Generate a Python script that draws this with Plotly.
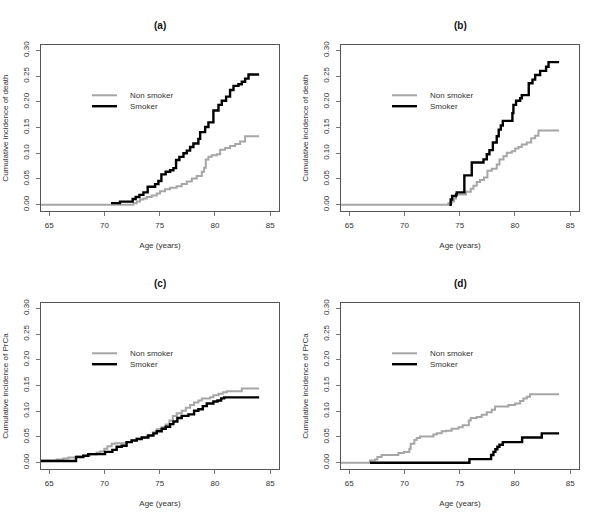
import plotly.graph_objects as go

# ---------------- data ----------------
# Panel (a): cumulative incidence of death
a_non_age = [64.0, 72.61, 72.92, 73.22, 73.52, 73.82, 74.27, 74.73, 75.03, 75.48, 75.94, 76.54, 76.99,
             77.45, 77.90, 78.35, 78.81, 79.02, 79.17, 79.41, 79.71, 80.17, 80.47, 80.92, 81.37, 81.83,
             82.28, 82.73, 84.0]
a_non_cif = [0.0, 0.003, 0.006, 0.010, 0.012, 0.015, 0.018, 0.022, 0.026, 0.030, 0.033, 0.036, 0.040,
             0.045, 0.051, 0.056, 0.064, 0.072, 0.088, 0.093, 0.096, 0.098, 0.107, 0.110, 0.114, 0.118,
             0.123, 0.133, 0.133]
a_smk_age = [70.59, 71.40, 72.55, 72.82, 73.16, 73.52, 73.91, 74.58, 74.88, 75.15, 75.54, 75.94, 76.24,
             76.48, 76.78, 77.15, 77.45, 77.75, 78.05, 78.50, 78.66, 79.11, 79.41, 79.86, 80.32, 80.62,
             81.01, 81.37, 81.68, 82.13, 82.43, 82.73, 83.04, 84.0]
a_smk_cif = [0.003, 0.006, 0.011, 0.015, 0.019, 0.024, 0.035, 0.040, 0.046, 0.059, 0.064, 0.067, 0.071,
             0.087, 0.093, 0.100, 0.105, 0.112, 0.119, 0.128, 0.141, 0.151, 0.160, 0.183, 0.194, 0.202,
             0.210, 0.223, 0.231, 0.234, 0.239, 0.245, 0.253, 0.253]

# Panel (b): cumulative incidence of death
b_non_age = [64.0, 73.97, 74.27, 74.49, 74.67, 75.57, 76.00, 76.24, 76.54, 76.84, 77.20, 77.51, 77.90,
             78.35, 78.60, 78.96, 79.26, 79.71, 80.02, 80.32, 80.62, 81.07, 81.47, 81.83, 82.13, 84.0]
b_non_cif = [0.0, 0.003, 0.006, 0.012, 0.020, 0.025, 0.031, 0.037, 0.044, 0.048, 0.053, 0.066, 0.070,
             0.078, 0.088, 0.094, 0.101, 0.104, 0.109, 0.112, 0.117, 0.121, 0.129, 0.134, 0.144, 0.144]
b_smk_age = [74.06, 74.18, 74.31, 74.67, 74.73, 75.42, 76.09, 77.15, 77.45, 77.69, 78.00, 78.35, 78.53,
             78.72, 78.90, 79.77, 79.86, 80.10, 80.47, 80.62, 81.25, 81.59, 81.83, 82.28, 82.82, 83.04, 84.0]
b_smk_cif = [0.0, 0.010, 0.017, 0.020, 0.024, 0.057, 0.082, 0.088, 0.098, 0.106, 0.121, 0.133, 0.146,
             0.154, 0.163, 0.178, 0.194, 0.202, 0.207, 0.213, 0.236, 0.243, 0.252, 0.260, 0.268, 0.277, 0.277]

# Panel (c): cumulative incidence of PrCa
c_non_age = [64.0, 65.66, 66.27, 66.72, 67.48, 68.08, 68.69, 69.29, 69.59, 69.98, 70.26, 70.65, 70.95,
             72.00, 72.46, 72.92, 73.37, 73.82, 74.37, 74.73, 75.18, 75.54, 75.88, 76.18, 76.54, 76.99,
             77.36, 77.75, 78.11, 78.50, 78.81, 79.56, 79.86, 80.32, 80.71, 81.07, 82.43, 84.0]
c_non_cif = [0.0045, 0.0064, 0.008, 0.010, 0.012, 0.014, 0.016, 0.020, 0.022, 0.027, 0.032, 0.037, 0.038,
             0.040, 0.044, 0.047, 0.049, 0.053, 0.059, 0.065, 0.069, 0.074, 0.082, 0.091, 0.096, 0.101,
             0.107, 0.112, 0.117, 0.121, 0.125, 0.127, 0.131, 0.134, 0.137, 0.139, 0.144, 0.144]
c_smk_age = [64.0, 67.42, 68.08, 68.53, 70.05, 70.71, 71.10, 71.56, 72.00, 72.46, 72.92, 73.37, 73.97,
             74.43, 74.73, 75.18, 75.54, 75.94, 76.24, 76.60, 76.99, 77.60, 78.11, 78.50, 78.90, 79.26,
             79.86, 80.23, 80.56, 80.83, 84.0]
c_smk_cif = [0.0032, 0.011, 0.0135, 0.0167, 0.021, 0.025, 0.031, 0.033, 0.040, 0.043, 0.046, 0.049, 0.053,
             0.057, 0.061, 0.066, 0.070, 0.075, 0.080, 0.087, 0.091, 0.094, 0.101, 0.104, 0.110, 0.115,
             0.119, 0.121, 0.125, 0.127, 0.127]

# Panel (d): cumulative incidence of PrCa
d_non_age = [64.0, 66.87, 67.33, 67.54, 67.93, 69.44, 69.95, 70.44, 70.56, 70.89, 71.10, 71.40, 72.61,
             72.92, 73.37, 73.76, 74.27, 74.88, 75.27, 75.82, 76.00, 76.54, 76.99, 77.45, 77.90, 78.20,
             79.41, 80.02, 80.47, 80.77, 81.07, 81.37, 84.0]
d_non_cif = [0.0, 0.0045, 0.0064, 0.011, 0.015, 0.019, 0.021, 0.027, 0.037, 0.044, 0.048, 0.051, 0.055,
             0.057, 0.061, 0.062, 0.066, 0.069, 0.073, 0.082, 0.087, 0.089, 0.093, 0.098, 0.103, 0.109,
             0.112, 0.115, 0.120, 0.125, 0.128, 0.133, 0.133]
d_smk_age = [66.87, 75.88, 77.84, 78.05, 78.23, 78.41, 78.60, 78.90, 80.65, 82.43, 84.0]
d_smk_cif = [0.0, 0.007, 0.015, 0.021, 0.026, 0.031, 0.035, 0.040, 0.049, 0.057, 0.057]

panel_titles = ["(a)", "(b)", "(c)", "(d)"]
y_titles = ["Cumulative incidence of death", "Cumulative incidence of death",
            "Cumulative incidence of PrCa", "Cumulative incidence of PrCa"]
x_title = "Age (years)"
series_names = ["Non smoker", "Smoker"]
x_ticks = [65, 70, 75, 80, 85]
y_ticks = [0.0, 0.05, 0.10, 0.15, 0.20, 0.25, 0.30]

panels = [
    (a_non_age, a_non_cif, a_smk_age, a_smk_cif),
    (b_non_age, b_non_cif, b_smk_age, b_smk_cif),
    (c_non_age, c_non_cif, c_smk_age, c_smk_cif),
    (d_non_age, d_non_cif, d_smk_age, d_smk_cif),
]

# ---------------- layout geometry ----------------
W, H = 600, 520
FONT = "Liberation Sans, Arial, Helvetica, sans-serif"
TXT = "#333333"
FS = 8
# plot boxes in pixels: (left, right, top, bottom)
boxes = [(41, 279, 41, 209), (341, 579, 41, 209), (41, 279, 301, 469), (341, 579, 301, 469)]
colors = ["#a6a6a6", "#000000"]
widths = [2, 2.4]

fig = go.Figure()
layout = dict(
    width=W, height=H, margin=dict(l=0, r=0, t=0, b=0),
    paper_bgcolor="white", plot_bgcolor="white",
    font=dict(family=FONT, size=FS, color=TXT),
    annotations=[], shapes=[], showlegend=False,
)

for i, (panel, box) in enumerate(zip(panels, boxes)):
    n = "" if i == 0 else str(i + 1)
    xa, ya = "x" + n, "y" + n
    l, r, t, b = box
    non_x, non_y, smk_x, smk_y = panel
    for k, (xs, ys) in enumerate([(non_x, non_y), (smk_x, smk_y)]):
        fig.add_trace(go.Scatter(
            x=xs, y=ys, mode="lines", line=dict(color=colors[k], width=widths[k], shape="hv"),
            name=series_names[k], xaxis=xa, yaxis=ya,
        ))
        # legend key (drawn in paper coordinates, like R's legend())
        ky = 1 - (t + 51 + 11 * k) / H
        layout["shapes"].append(dict(
            type="line", xref="paper", yref="paper", x0=(l + 51) / W, x1=(l + 76) / W, y0=ky, y1=ky,
            line=dict(color=colors[k], width=widths[k])))
        layout["annotations"].append(dict(
            text=series_names[k], xref="paper", yref="paper", x=(l + 87) / W, y=ky,
            xanchor="left", yanchor="middle", showarrow=False,
            font=dict(size=FS, color=TXT, family=FONT)))
    common = dict(showgrid=False, zeroline=False, showline=True, mirror=True,
                  linecolor="#555555", linewidth=1, ticks="outside", ticklen=4,
                  tickcolor="#777777", tickwidth=1, tickfont=dict(size=FS, color=TXT, family=FONT))
    layout["xaxis" + n] = dict(
        domain=[l / W, r / W], range=[64.25, 85.8], tickvals=x_ticks, anchor=ya,
        ticklabelstandoff=2,
        title=dict(text=x_title, standoff=13, font=dict(size=FS, color=TXT)), **common)
    layout["yaxis" + n] = dict(
        domain=[1 - b / H, 1 - t / H], range=[-0.013, 0.311], tickvals=y_ticks, tickformat=".2f",
        tickangle=-90, anchor=xa, ticklabelstandoff=4,
        title=dict(text=y_titles[i], standoff=11, font=dict(size=FS, color=TXT)), **common)
    layout["annotations"].append(dict(
        text="<b>" + panel_titles[i] + "</b>", x=(l + r) / 2 / W, y=1 - (t - 19) / H,
        xref="paper", yref="paper", showarrow=False, xanchor="center", yanchor="middle",
        font=dict(size=10, color="#111111", family=FONT)))

fig.update_layout(**layout)
fig.write_html("out.html", config={"displayModeBar": False},
               post_script="document.body.style.margin='0';")
